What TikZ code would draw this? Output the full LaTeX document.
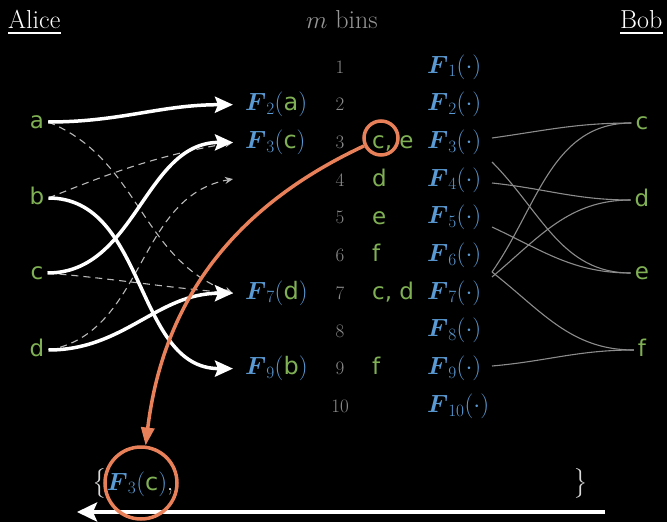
\documentclass[tikz,border=0pt]{standalone}
\usepackage{amsmath}
\usepackage{fontspec}
\newfontfamily\itemfont{DejaVu Sans}
\usetikzlibrary{arrows.meta}
\definecolor{fblue}{RGB}{91,155,213}
\definecolor{igreen}{RGB}{128,176,84}
\definecolor{oran}{RGB}{232,128,90}
\definecolor{numgray}{RGB}{140,140,140}
\definecolor{hdgray}{RGB}{150,150,150}
\definecolor{linegray}{RGB}{140,140,140}
\definecolor{dashgray}{RGB}{185,185,185}
\newcommand{\itm}[1]{{\color{igreen}\itemfont #1}}
\newcommand{\Fx}[2]{{\color{fblue}$\boldsymbol{F}_{#1}($}\itm{#2}{\color{fblue}$)$}}
\newcommand{\Fd}[1]{{\color{fblue}$\boldsymbol{F}_{#1}(\cdot)$}}
\tikzset{
  itemnode/.style={text=igreen, font=\fontsize{23}{28}\selectfont\itemfont, text height=12.5pt, text depth=0pt, inner sep=4pt},
  fnode/.style={anchor=west, inner sep=0pt, text height=18pt, text depth=6pt, font=\fontsize{24}{28}\selectfont},
  tnode/.style={fnode, inner xsep=12pt},
  numnode/.style={text=numgray, font=\fontsize{19}{22}\selectfont, text height=12.3pt, text depth=0pt, inner sep=0pt},
  headnode/.style={font=\fontsize{26}{30}\selectfont, inner sep=0pt},
  solidarr/.style={white, line width=3.5pt, -{Stealth[length=18pt,width=16pt,inset=3pt]}},
  dasharr/.style={dashgray, line width=1.1pt, dash pattern=on 7pt off 5pt, -{Stealth[length=8pt,width=7pt]}},
  bobline/.style={linegray, line width=1.1pt},
  ring/.style={circle, draw=oran, line width=3.5pt, inner sep=0pt},
  orarr/.style={oran, line width=3.5pt, -{Triangle[length=18pt,width=13pt]}},
}
\begin{document}
\begin{tikzpicture}[x=1pt,y=1pt]
\fill[black] (0,0) rectangle (667,-522);
\useasboundingbox (0,0) rectangle (667,-522);

% headers
\node[headnode, anchor=base west, text=white] (alice) at (8,-28) {Alice};
\draw[white, line width=1.6pt] ([yshift=-5pt]alice.base west) -- ([yshift=-5pt]alice.base east);
\node[headnode, anchor=base, text=hdgray] (mbins) at (342,-28) {$m$ bins};
\node[headnode, anchor=base west, text=white] (bob) at (620,-28) {Bob};
\draw[white, line width=1.6pt] ([yshift=-5pt]bob.base west) -- ([yshift=-5pt]bob.base east);

% Alice items
\node[itemnode] (a) at (37,-122) {a};
\node[itemnode] (b) at (37,-198) {b};
\node[itemnode] (c) at (37,-273) {c};
\node[itemnode] (d) at (37,-350) {d};

% targets
\node[tnode] (t2) at (233,-104.7) {\Fx{2}{a}};
\node[tnode] (t3) at (233,-142.4) {\Fx{3}{c}};
\coordinate (t4) at (233,-179);
\node[tnode] (t7) at (233,-293.2) {\Fx{7}{d}};
\node[tnode] (t9) at (233,-368.6) {\Fx{9}{b}};

% numbers
\foreach \i/\y in {1/67,2/104.7,3/142.4,4/180.1,5/217.8,6/255.5,7/293.2,8/330.9,9/368.6,10/406.3}{
  \node[numnode] (n\i) at (340,-\y) {\i};
  \node[fnode] (F\i) at (427,-\y) {\Fd{\i}};
}

% bin contents
\node[itemnode, anchor=west] (k3) at (368,-142.4) {c, e};
\node[itemnode, anchor=west] (k4) at (368,-180.1) {d};
\node[itemnode, anchor=west] (k5) at (368,-217.8) {e};
\node[itemnode, anchor=west] (k6) at (368,-255.5) {f};
\node[itemnode, anchor=west] (k7) at (368,-293.2) {c, d};
\node[itemnode, anchor=west] (k9) at (368,-368.6) {f};

% Bob items
\node[itemnode] (bc) at (642,-123) {c};
\node[itemnode] (bd) at (642,-200) {d};
\node[itemnode] (be) at (642,-273) {e};
\node[itemnode] (bf) at (642,-350) {f};

% dashed alternatives
\draw[dasharr] (a.east) to[out=-22,in=160] (t7.west);
\draw[dasharr] (b.east) to[out=22,in=190] (t3.west);
\draw[dasharr] (c.east) to[out=-5,in=175] (t7.west);
\draw[dasharr] (d.east) to[out=10,in=190] (t4);

% solid assignments
\draw[solidarr] (a.east) to[out=0,in=180] (t2.west);
\draw[solidarr] (c.east) to[out=0,in=180] (t3.west);
\draw[solidarr] (d.east) to[out=0,in=180] (t7.west);
\draw[solidarr] (b.east) to[out=0,in=180] (t9.west);

% Bob lines
\draw[bobline] ([xshift=65pt,yshift=4.4pt]F3.west) to[out=8,in=180] (bc.west);
\draw[bobline] ([xshift=65pt,yshift=-19.6pt]F3.west) to[out=-45,in=180] (be.west);
\draw[bobline] ([xshift=65pt,yshift=-2.9pt]F4.west) to[out=-6,in=180] (bd.west);
\draw[bobline] ([xshift=65pt,yshift=-9.2pt]F5.west) to[out=-25,in=180] (be.west);
\draw[bobline] ([xshift=65pt,yshift=21.2pt]F7.west) to[out=55,in=180] (bc.west);
\draw[bobline] ([xshift=65pt,yshift=16.2pt]F7.west) to[out=40,in=180] (bd.west);
\draw[bobline] ([xshift=65pt,yshift=-16.5pt]F6.west) to[out=-38,in=180] (bf.west);
\draw[bobline] ([xshift=65pt,yshift=2.6pt]F9.west) to[out=5,in=180] (bf.west);

% bottom set
\node[fnode] (set) at (92,-484) {{\color{white!85!black}$\big\{$}\Fx{3}{c}{\color{white},}};
\node[fnode, anchor=center] (rbrace) at (581,-484) {{\color{white!85!black}$\big\}$}};
\coordinate (arrR) at (605,-512);
\coordinate (arrL) at (77,-512);
\draw[white, line width=4pt, -{Stealth[length=20pt,width=19pt,inset=4pt]}] (arrR) -- (arrL);

% orange highlight
\node[ring, minimum size=34pt] (ring1) at (381,-138) {};
\node[ring, minimum size=72pt] (ring2) at (141,-483) {};
\draw[orarr] (ring1) to[out=205,in=83] (ring2);
\end{tikzpicture}
\end{document}
